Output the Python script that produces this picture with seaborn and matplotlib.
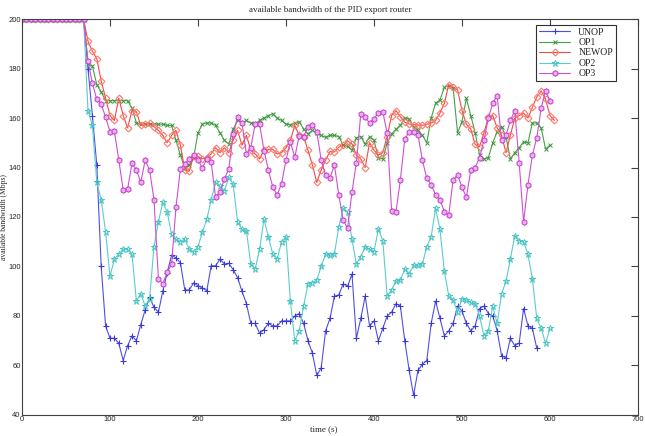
import numpy as np
import pandas as pd
import matplotlib

matplotlib.use('Agg')
import matplotlib.pyplot as plt
import seaborn as sns

# 采样间隔 5 s, 前 70 s 全部为 200 Mbps
flat = [200] * 15

unop = flat + [
    180, 161, 141, 100, 76, 71, 71, 69, 62, 68, 72, 70, 76.5, 82.5, 87.5, 83.5, 81.5, 90, 97.5, 104.5,
    103.5, 101.5, 90.5, 90.5, 93.3, 92.3, 91.3, 90.2, 100.3,
    100.3, 103, 101, 101.3, 98.7, 95.5, 90, 85, 77, 77, 73, 74.5, 77, 76, 76, 78, 78, 78, 80, 81,
    77, 70, 65, 56, 59, 74, 79, 88, 88.5, 93, 92, 97,
    71, 79, 88, 76, 78, 70, 75, 80, 81.5, 85, 84, 70, 58, 48, 58, 60.5, 62, 77, 86, 79, 72, 74, 77, 84,
    82, 77, 74, 76, 83, 84, 81, 80, 74, 64, 63, 71, 68, 69, 83, 76, 75, 67]

op1 = flat + [
    182, 181, 173.5, 170.5, 167, 167, 167, 167, 167, 167, 164, 158, 157.5, 157.5, 157.5, 157.5, 157.5,
    157.5, 157, 157, 151, 145, 140, 141, 144, 154, 157.5, 158, 158, 157,
    154, 151, 149.5, 155.5, 159, 158, 159, 158, 157.5, 159, 160, 161, 161.7, 160, 159,
    157.5, 157.3, 158, 158.5, 155.5, 153.7, 155, 154, 153, 152.2, 153, 153, 152.5, 149, 148.5,
    147, 152, 152.5, 149.5, 152.5, 151, 144, 143.4, 150, 153.5, 155.5, 157, 160, 159.5, 156.5,
    155, 153, 150, 160, 166, 167.3, 172.4, 173, 172, 154, 158.5, 168, 161, 154, 145,
    143.5, 144, 150, 154.5, 156.5, 152.5, 143.5, 146, 148, 150.4, 150, 158, 158, 156, 147.5, 149]

newop = flat + [
    191, 187, 184, 175, 168, 161, 159, 168, 161, 156, 163, 162.5, 157, 157.5, 158, 156.5, 155, 153,
    150, 153, 155, 149, 139, 138.5, 144.5, 144.5, 143.5, 144, 145.5, 148,
    146, 148, 146, 151, 155, 149, 153, 147, 145.5, 143.5, 147, 147.3, 147.4, 145.5, 146,
    148, 151, 157, 153, 152.5, 147, 141, 134, 139, 143, 146.5, 146.3, 148.2, 149, 150.8,
    149.5, 145, 143.4, 140, 150, 147, 145, 146, 152.5, 161, 163, 160.5, 158.3, 157.6, 157.3,
    157.2, 157, 157.5, 158, 159, 162, 166, 173.5, 172.5, 171.5, 163, 157.5, 155.5, 149.3, 148.4,
    154, 160.4, 161, 156, 153, 146, 153, 160, 161, 162, 160, 164.3, 168.5, 171, 167.5, 161, 159]

op2 = flat + [
    163, 157, 134, 127, 114, 96, 103, 105, 107, 107, 105, 86, 89, 84, 87, 108, 118, 126, 122, 113,
    111, 110, 111, 107, 106, 108, 114, 119, 127, 134,
    132.4, 130.6, 136, 133.3, 118, 115, 114.5, 101, 99, 107, 119, 112, 105, 103, 110, 112,
    86, 70, 74, 84, 93, 93.5, 94.5, 100, 105, 104.5, 105, 116, 123.5, 122, 111,
    101, 104, 108, 107, 106, 115, 110.5, 88, 90.5, 94, 94.5, 99, 97, 100.5, 100.5, 101, 108, 112,
    123.5, 115, 98, 88, 86.5, 81.5, 87, 86.5, 85.5, 85, 80, 72, 74, 84, 77, 89, 94, 103, 112.5,
    110.5, 110, 105, 95, 79, 75, 69, 75]

op3 = flat + [
    183, 174, 167.5, 165.7, 160.3, 154.5, 154.6, 143, 131, 131.3, 141.7, 139, 134, 143, 139, 127,
    95, 93, 97.6, 101, 124, 139.4, 141.4, 143.4, 145, 143.2, 139.7, 143.4, 142.1, 128,
    130, 135.4, 139.4, 153.5, 160.3, 158, 145.5, 148, 157.6, 157.6, 146.8, 139, 132, 129, 133.5,
    143, 150.3, 144.2, 152.8, 152.5, 156.3, 157.2, 154.5, 143, 137, 135.7, 141, 129, 118.7, 115.4,
    130, 142, 161.6, 160.3, 158, 159.5, 162.2, 162.6, 153.8, 122.6, 122.2, 135, 151.4, 154.5, 154.5,
    153.2, 143, 135.6, 133, 129, 127, 122.2, 121, 135, 137, 132, 128, 139, 140, 144,
    151, 160, 166, 169, 151, 153, 159, 163, 142, 118, 133, 145, 152, 164, 171, 167]

series_names = ['UNOP', 'OP1', 'NEWOP', 'OP2', 'OP3']
series_values = [unop, op1, newop, op2, op3]
x_ticks = [0, 100, 200, 300, 400, 500, 600, 700]
y_ticks = [40, 60, 80, 100, 120, 140, 160, 180, 200]

styles = {
    'UNOP': dict(color='#5050e0', marker='+', markersize=5, markeredgecolor='#3a3ad8',
                 markerfacecolor='none', markeredgewidth=0.8),
    'OP1': dict(color='#46a046', marker='x', markersize=2.5, markeredgecolor='#3c963c',
                markerfacecolor='none', markeredgewidth=0.7),
    'NEWOP': dict(color='#f04a4a', marker='D', markersize=3.5, markeredgecolor='#ff7a6a',
                  markerfacecolor='none', markeredgewidth=0.8),
    'OP2': dict(color='#5ccccc', marker='*', markersize=5, markeredgecolor='#48c4c4',
                markerfacecolor='none', markeredgewidth=0.7),
    'OP3': dict(color='#d050d0', marker='h', markersize=4, markeredgecolor='#c438cc',
                markerfacecolor='#eab0ea', markeredgewidth=0.7),
}

sns.set_style('white')
plt.rcParams['font.family'] = ['Liberation Sans', 'DejaVu Sans']

fig = plt.figure(figsize=(6.45, 4.36), dpi=100)
ax = fig.add_axes([0.0341, 0.0482, 0.955, 0.9082])

for name, vals in zip(series_names, series_values):
    df = pd.DataFrame({'time': np.arange(len(vals)) * 5, 'bw': vals})
    sns.lineplot(data=df, x='time', y='bw', ax=ax, label=name, linewidth=0.8, **styles[name])

ax.set_xlim(0, 700)
ax.set_ylim(40, 200)
ax.set_xticks(x_ticks)
ax.set_yticks(y_ticks)
ax.tick_params(direction='in', length=5, width=0.8, color='#404040', labelsize=5.5,
               top=True, right=True, pad=1)
for s in ax.spines.values():
    s.set_color('#404040')
    s.set_linewidth(0.8)

ax.set_title('available bandwidth of the PID export router', family='Liberation Serif',
             fontsize=6.5, pad=5)
ax.set_xlabel('time (s)', family='Liberation Serif', fontsize=6.5)
ax.set_ylabel('available bandwidth (Mbps)', family='Liberation Serif', fontsize=5.5)
ax.xaxis.set_label_coords(0.49, -0.027)
ax.yaxis.set_label_coords(-0.0228, 0.5)

leg = ax.legend(loc='upper right', bbox_to_anchor=(0.972, 0.998), fancybox=False,
                framealpha=1, edgecolor='#303030', prop={'family': 'Liberation Serif', 'size': 7},
                handlelength=3.2, borderpad=0.3, labelspacing=0.15)
leg.get_frame().set_linewidth(0.8)

plt.savefig('out.png', dpi=100)
plt.close()
